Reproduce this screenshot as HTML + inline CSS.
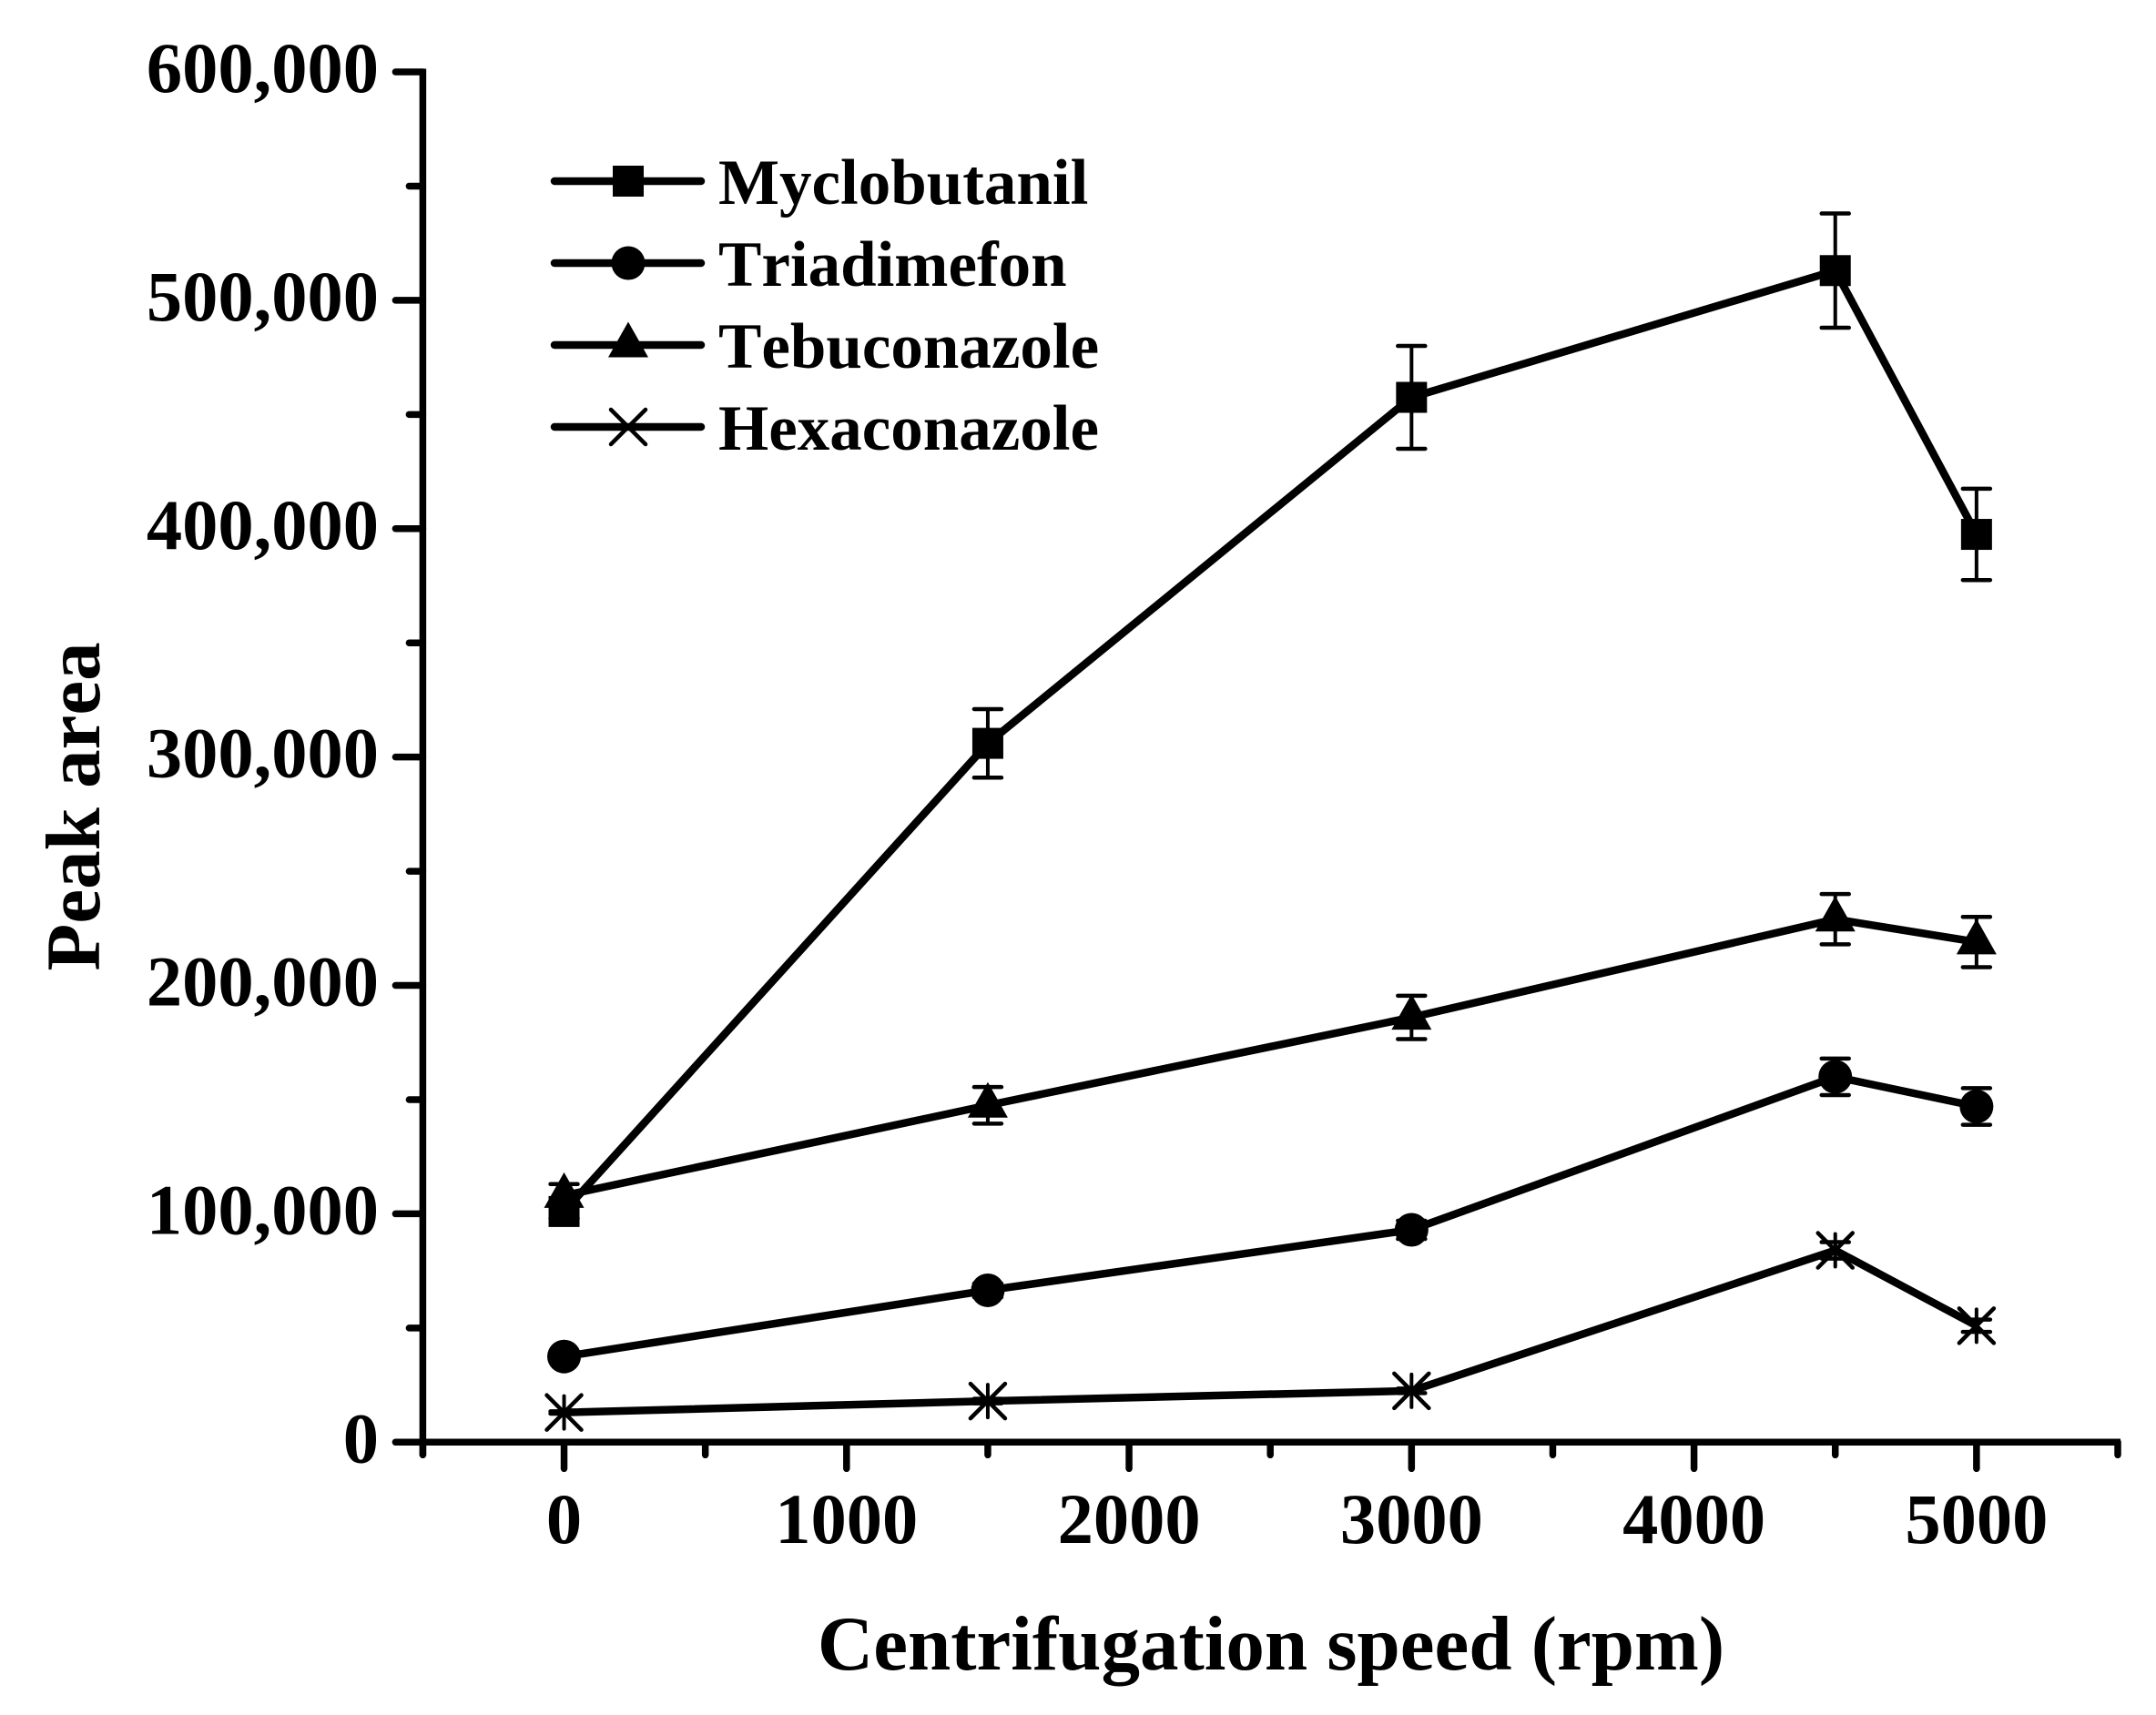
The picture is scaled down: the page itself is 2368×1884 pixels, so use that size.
<!DOCTYPE html>
<html lang="en">
<head>
<meta charset="utf-8">
<title>Peak area vs centrifugation speed</title>
<style>
html,body{margin:0;padding:0;background:#fff;width:2368px;height:1884px;overflow:hidden}
svg{display:block}
text{font-family:"Liberation Serif",serif;font-weight:bold;fill:#000;font-kerning:none}
</style>
</head>
<body>
<svg id="chart" width="2368" height="1884" viewBox="0 0 2368 1884" xmlns="http://www.w3.org/2000/svg">
<rect x="0" y="0" width="2368" height="1884" fill="#fff"/>
<g id="axes"></g>
<g id="series"></g>
<text transform="translate(109,886) rotate(-90)" text-anchor="middle" font-size="85">Peak area</text>
<text x="1396" y="1834" text-anchor="middle" font-size="85">Centrifugation speed (rpm)</text>
<g id="legend"></g>
</svg>
<script>
const speeds = [0, 1500, 3000, 4500, 5000];
const seriesNames = ['Myclobutanil', 'Triadimefon', 'Tebuconazole', 'Hexaconazole'];
const markerKinds = ['square', 'circle', 'triangle', 'star'];
const myclobutanil = [101000, 306000, 457500, 513000, 397500];
const myclobutanilErr = [3000, 15000, 22500, 25000, 20000];
const triadimefon = [37500, 66500, 93000, 160000, 147000];
const triadimefonErr = [2000, 3000, 4000, 8000, 8000];
const tebuconazole = [108000, 147500, 186000, 229000, 219000];
const tebuconazoleErr = [5000, 8000, 9500, 11000, 11000];
const hexaconazole = [13000, 18000, 22500, 84000, 51000];
const hexaconazoleErr = [500, 1000, 1000, 3600, 2700];
const yTicks = [0, 100000, 200000, 300000, 400000, 500000, 600000];
const yTickLabels = ['0', '100,000', '200,000', '300,000', '400,000', '500,000', '600,000'];
const yMinorTicks = [50000, 150000, 250000, 350000, 450000, 550000];
const xTicks = [0, 1000, 2000, 3000, 4000, 5000];
const xTickLabels = ['0', '1000', '2000', '3000', '4000', '5000'];
const xMinorTicks = [-500, 500, 1500, 2500, 3500, 4500, 5500];

const NS = 'http://www.w3.org/2000/svg';
const X_LEFT = 464.4, X_RIGHT = 2326, X_MIN = -500, X_MAX = 5500;
const Y_BOTTOM = 1584.3, Y_TOP = 79, Y_MIN = 0, Y_MAX = 600000;
function xScale(v) { return X_LEFT + (v - X_MIN) / (X_MAX - X_MIN) * (X_RIGHT - X_LEFT); }
function yScale(v) { return Y_BOTTOM - (v - Y_MIN) / (Y_MAX - Y_MIN) * (Y_BOTTOM - Y_TOP); }

function make(tag, attrs, parent) {
  const el = document.createElementNS(NS, tag);
  for (const k in attrs) el.setAttribute(k, attrs[k]);
  parent.appendChild(el);
  return el;
}
function strokeLine(parent, x1, y1, x2, y2, w, cap) {
  return make('line', { x1: x1, y1: y1, x2: x2, y2: y2, stroke: '#000', 'stroke-width': w, 'stroke-linecap': cap || 'round' }, parent);
}

const axes = document.getElementById('axes');
const yAxisLine = strokeLine(axes, X_LEFT, Y_TOP - 3.5, X_LEFT, Y_BOTTOM + 15, 7.5, 'butt');


const xAxisLine = strokeLine(axes, X_LEFT - 30, Y_BOTTOM, X_RIGHT + 3, Y_BOTTOM, 7.5, 'butt');



yTicks.forEach(function (v, i) {
  const t = strokeLine(axes, X_LEFT, yScale(v), X_LEFT - 30, yScale(v), 7.5);
  
  
  const lb = make('text', { x: 416, y: yScale(v) + 22, 'text-anchor': 'end', 'font-size': 78.5 }, axes);
  lb.textContent = yTickLabels[i];
  
  
});
yMinorTicks.forEach(function (v) {
  const t = strokeLine(axes, X_LEFT, yScale(v), X_LEFT - 15, yScale(v), 7.5);
  
  
});
xTicks.forEach(function (v, i) {
  const t = strokeLine(axes, xScale(v), Y_BOTTOM, xScale(v), Y_BOTTOM + 29, 7.5);
  
  
  const lb = make('text', { x: xScale(v), y: 1695, 'text-anchor': 'middle', 'font-size': 78.5 }, axes);
  lb.textContent = xTickLabels[i];
  
  
});
xMinorTicks.forEach(function (v) {
  const t = strokeLine(axes, xScale(v), Y_BOTTOM, xScale(v), Y_BOTTOM + 14, 7.5);
  
  
});

function drawMarker(parent, kind, cx, cy, isLegend) {
  const g = make('g', {}, parent);
  if (kind === 'square') {
    make('rect', { x: cx - 17, y: cy - 17, width: 34, height: 34, fill: '#000' }, g);
  } else if (kind === 'circle') {
    make('circle', { cx: cx, cy: cy, r: 18.5, fill: '#000' }, g);
  } else if (kind === 'triangle') {
    make('polygon', { points: (cx - 22) + ',' + (cy + 13.5) + ' ' + (cx + 22) + ',' + (cy + 13.5) + ' ' + cx + ',' + (cy - 25.5), fill: '#000' }, g);
  } else {
    strokeLine(g, cx - 19, cy - 19, cx + 19, cy + 19, 4.5);
    strokeLine(g, cx - 19, cy + 19, cx + 19, cy - 19, 4.5);
    if (!isLegend) strokeLine(g, cx, cy - 18, cx, cy + 18, 4);
  }
  return g;
}

const seriesValues = [myclobutanil, triadimefon, tebuconazole, hexaconazole];
const seriesErrors = [myclobutanilErr, triadimefonErr, tebuconazoleErr, hexaconazoleErr];
const seriesRoot = document.getElementById('series');
seriesValues.forEach(function (vals, s) {
  const g = make('g', {}, seriesRoot);
  
  
  vals.forEach(function (v, i) {
    const e = seriesErrors[s][i];
    const eb = make('g', {}, g);
    
    
    const px = xScale(speeds[i]);
    strokeLine(eb, px, yScale(v + e), px, yScale(v - e), 4, 'butt');
    strokeLine(eb, px - 15, yScale(v + e), px + 15, yScale(v + e), 4.5);
    strokeLine(eb, px - 15, yScale(v - e), px + 15, yScale(v - e), 4.5);
  });
  const pts = vals.map(function (v, i) { return xScale(speeds[i]) + ',' + yScale(v); }).join(' ');
  const line = make('polyline', { points: pts, fill: 'none', stroke: '#000', 'stroke-width': 8.5, 'stroke-linejoin': 'round' }, g);
  
  
  vals.forEach(function (v, i) {
    const m = drawMarker(g, markerKinds[s], xScale(speeds[i]), yScale(v), false);
    
    
  });
});

const legend = document.getElementById('legend');
seriesNames.forEach(function (name, i) {
  const ly = 199 + i * 90;
  const entry = make('g', {}, legend);
  
  
  strokeLine(entry, 609, ly, 770, ly, 8.5);
  drawMarker(entry, markerKinds[i], 690, ly, true);
  const t = make('text', { x: 789, y: ly + 25, 'font-size': 71 }, entry);
  t.textContent = name;
  
  
});
</script>
</body>
</html>
